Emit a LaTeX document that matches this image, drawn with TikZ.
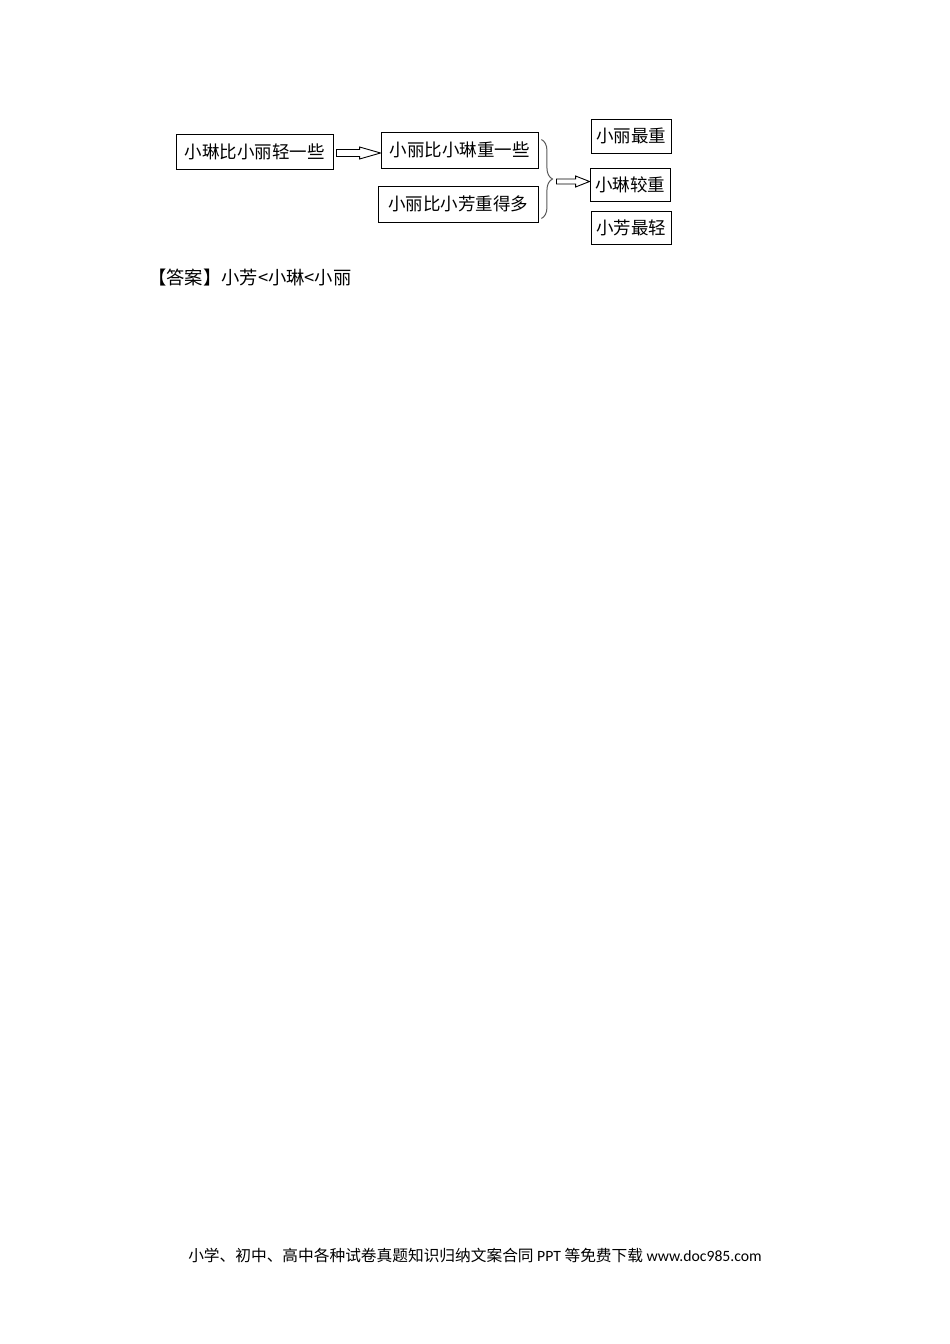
\documentclass[tikz,border=0pt]{standalone}
\usepackage{fontspec}
\setmainfont{Carlito}
\newfontfamily\cjk{Noto Sans CJK SC}
\usetikzlibrary{calc,decorations.pathreplacing}
\tikzset{
  box/.style={draw, line width=0.9pt, inner sep=0pt, font=\cjk\fontsize{17.5}{20}\selectfont},
  hollow/.style={draw, line width=0.9pt, line join=miter, fill=white},
}
% hollow arrow: start, end, shaft half height, head half height, head length
\newcommand\hollowarrow[5]{%
  \draw[hollow] ($(#1)+(0,-#3)$) -- ($(#2 |- #1)+(-#5,-#3)$) -- ($(#2 |- #1)+(-#5,-#4)$)
    -- (#2 |- #1) -- ($(#2 |- #1)+(-#5,#4)$) -- ($(#2 |- #1)+(-#5,#3)$) -- ($(#1)+(0,#3)$) -- cycle;}
\begin{document}
\begin{tikzpicture}[x=1pt,y=1pt,yscale=-1,xscale=1]
        \useasboundingbox (0,0) rectangle (950,1344);

        % Boxes
        \node[box, minimum width=157, minimum height=35] (linlight) at (254.5,151.5) {小琳比小丽轻一些};
        \node[box, minimum width=157, minimum height=36] (liheavy) at (459.5,150) {小丽比小琳重一些};
        \node[box, minimum width=160, minimum height=36] (limuch) at (458,204) {小丽比小芳重得多};
        \node[box, minimum width=80, minimum height=34] (limost) at (631,136) {小丽最重};
        \node[box, minimum width=80, minimum height=33] (linmid) at (630,184.5) {小琳较重};
        \node[box, minimum width=80, minimum height=33] (fangleast) at (631,227.5) {小芳最轻};

        %Straight Lines
        \coordinate (arrowa) at ($(linlight.east)+(3,1.5)$);
        \hollowarrow{arrowa}{liheavy.west}{3.5}{6}{21}
        %Curve Lines
        \coordinate (bracetop) at ($(liheavy.north east)+(3,8)$);
        \coordinate (bracebot) at ($(limuch.south east)+(3,-4)$);
        \draw[black!65, line width=1pt, decorate, decoration={brace, amplitude=11}] (bracetop) -- (bracebot) coordinate[pos=0.5] (bracemid);
        \coordinate (bracetip) at ($(bracemid)+(15,2.5)$);
        %Straight Lines
        \hollowarrow{bracetip}{linmid.west}{2.5}{5.5}{14}

        % Text Node
        \node[anchor=base west, inner sep=0pt, font=\cjk\fontsize{18.3}{20}\selectfont] (answer) at (148,284) {【答案】小芳<小琳<小丽};
        % Text Node
        \node[anchor=base, inner sep=0pt, font=\fontsize{15.7}{18}\selectfont] (footer) at (475,1261) {{\cjk 小学、初中、高中各种试卷真题知识归纳文案合同} PPT {\cjk 等免费下载} www.doc985.com};

\end{tikzpicture}
\end{document}
